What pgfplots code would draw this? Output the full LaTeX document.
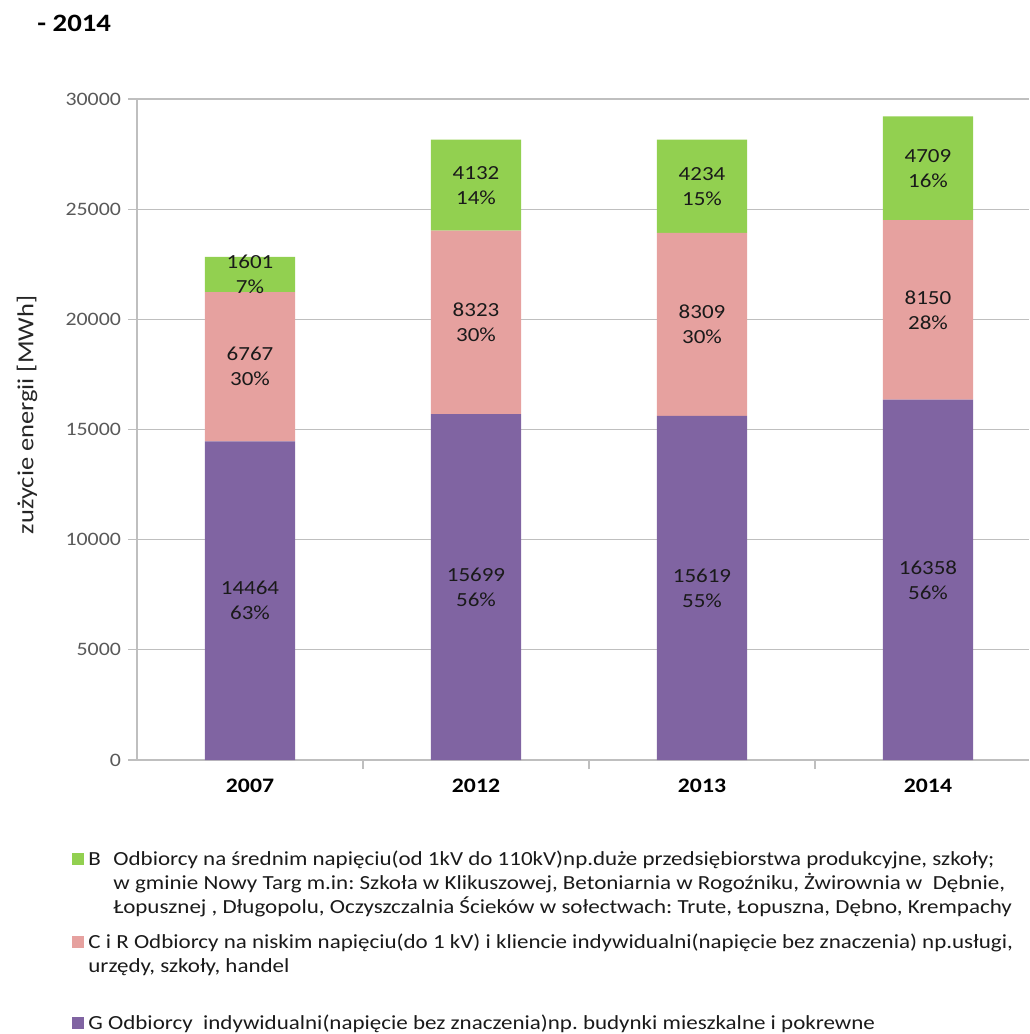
\documentclass[border=0pt]{standalone}
\usepackage{fontspec}
\setmainfont[FakeStretch=1.15]{Carlito}
\usepackage{pgfplots}
\pgfplotsset{compat=1.18}
\usepackage{pgfplotstable}
\definecolor{cB}{HTML}{92D050}
\definecolor{cC}{HTML}{E6A19F}
\definecolor{cG}{HTML}{8064A2}
\definecolor{gridc}{HTML}{BFBFBF}
\definecolor{txt}{HTML}{1A1A1A}
\definecolor{tickc}{HTML}{595959}

\pgfplotstableread{
x G Gp C Cp B Bp
0 14464 63 6767 30 1601 7
1 15699 56 8323 30 4132 14
2 15619 55 8309 30 4234 15
3 16358 56 8150 28 4709 16
}\data

\pgfplotsset{
 seglbl/.style 2 args={
   point meta=explicit symbolic,
   visualization depends on={\thisrow{#2}\as\pct},
   nodes near coords={\pgfplotspointmeta\\\pgfmathprintnumber[fixed,precision=0,assume math mode=true]{\pct}\%},
   every node near coord/.style={anchor=center, align=center,
     font=\fontsize{10}{12.5}\selectfont, text=txt, inner sep=0pt},
 }
}

\begin{document}
\frenchspacing
\begin{tikzpicture}
\useasboundingbox (0,0) rectangle (514.5pt,-517pt);
\node[anchor=west, inner sep=0pt, font=\bfseries\fontsize{12.5}{14}\selectfont] at (18.5pt,-11.5pt) {- 2014};
\node[rotate=90, inner sep=0pt, font=\fontsize{11.5}{13}\selectfont, text=black!85] at (13.5pt,-207.5pt) {zużycie energii [MWh]};
\begin{axis}[
 at={(68.5pt,-380pt)}, anchor=south west,
 scale only axis, width=446pt, height=330.5pt,
 ybar stacked, bar width=0.40,
 xmin=-0.5, xmax=3.447, ymin=0, ymax=30000,
 axis x line*=bottom, axis y line*=left,
 axis line style={gridc, line width=0.6pt},
 ytick={0,5000,...,30000},
 scaled y ticks=false,
 ymajorgrids, grid style={gridc, line width=0.6pt},
 tick align=outside, major tick length=4.5pt,
 tick style={gridc, line width=0.6pt},
 yticklabel style={font=\fontsize{9.5}{11}\selectfont, text=tickc,
   /pgf/number format/assume math mode=true, /pgf/number format/1000 sep={}},
 xtick={0.5,1.5,2.5}, xticklabels={},
 extra x ticks={0,1,2,3},
 extra x tick labels={2007,2012,2013,2014},
 extra x tick style={major tick length=0pt,
   xticklabel style={font=\bfseries\fontsize{10.3}{12}\selectfont, text=black, yshift=-6pt}},
 clip=false,
]
\addplot[fill=cG, draw=none, seglbl={G}{Gp}] table[x=x, y=G, meta=G] {\data};
\addplot[fill=cC, draw=none, seglbl={C}{Cp}] table[x=x, y=C, meta=C] {\data};
\addplot[fill=cB, draw=none, seglbl={B}{Bp}] table[x=x, y=B, meta=B] {\data};
\end{axis}
% legend
\begin{scope}[every node/.style={anchor=base west, inner sep=0pt, text=txt, font=\fontsize{10}{12}\selectfont}]
\fill[cB] (36pt,-426.5pt) rectangle +(6pt,-6pt);
\node at (44pt,-432.5pt) {B};
\node at (56.5pt,-432.5pt) {Odbiorcy na średnim napięciu(od 1kV do 110kV)np.duże przedsiębiorstwa produkcyjne, szkoły;};
\node at (56.5pt,-444.5pt) {w gminie Nowy Targ m.in: Szkoła w Klikuszowej, Betoniarnia w Rogoźniku, Żwirownia w\ \ Dębnie,};
\node at (56.5pt,-456.5pt) {Łopusznej , Długopolu, Oczyszczalnia Ścieków w sołectwach: Trute, Łopuszna, Dębno, Krempachy};
\fill[cC] (36pt,-468pt) rectangle +(6pt,-6pt);
\node at (44pt,-474pt) {C i R Odbiorcy na niskim napięciu(do 1 kV) i kliencie indywidualni(napięcie bez znaczenia) np.usługi,};
\node at (44pt,-486pt) {urzędy, szkoły, handel};
\fill[cG] (36pt,-508.5pt) rectangle +(6pt,-6pt);
\node at (44pt,-514.5pt) {G Odbiorcy\ \ indywidualni(napięcie bez znaczenia)np. budynki mieszkalne i pokrewne};
\end{scope}
\end{tikzpicture}
\end{document}
